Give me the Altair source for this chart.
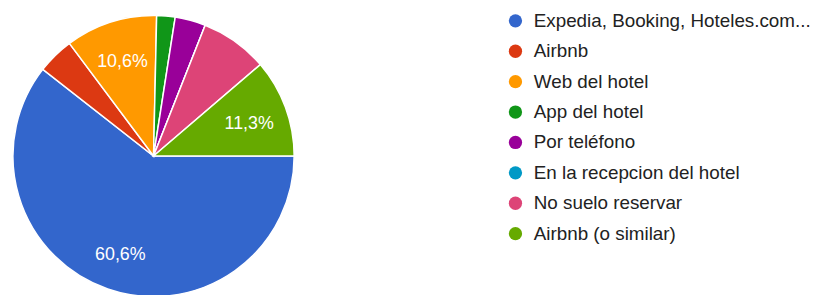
import math
import altair as alt
import pandas as pd

categories = [
    "Expedia, Booking, Hoteles.com...",
    "Airbnb",
    "Web del hotel",
    "App del hotel",
    "Por teléfono",
    "En la recepcion del hotel",
    "No suelo reservar",
    "Airbnb (o similar)",
]
counts = [86, 6, 15, 3, 5, 0, 11, 16]
colors = ["#3366cc", "#dc3912", "#ff9900", "#109618", "#990099", "#0099c6", "#dd4477", "#66aa00"]

total = sum(counts)
pcts = [c / total * 100 for c in counts]
labels = [(f"{p:.1f}".replace(".", ",") + "%") if p >= 10 else "" for p in pcts]

df = pd.DataFrame({
    "category": categories,
    "count": counts,
    "label": labels,
    "idx": list(range(len(categories))),
})

FONT = "Arial, Liberation Sans, sans-serif"
CX, CY = 147, 148

theta = alt.Theta(
    "count:Q",
    stack=True,
    scale=alt.Scale(range=[math.pi / 2, math.pi / 2 + 2 * math.pi]),
)

base = alt.Chart(df).encode(
    theta=theta,
    order=alt.Order("idx:Q", sort="ascending"),
    x=alt.value(CX),
    y=alt.value(CY),
)

pie = base.mark_arc(outerRadius=142, stroke="white", strokeWidth=1.5).encode(
    color=alt.Color(
        "category:N",
        scale=alt.Scale(domain=categories, range=colors),
        legend=alt.Legend(
            title=None,
            orient="none",
            legendX=503,
            legendY=2,
            symbolType="circle",
            symbolSize=180,
            symbolStrokeWidth=0,
            symbolOpacity=1,
            labelFontSize=19,
            labelFont=FONT,
            labelColor="#222222",
            labelOffset=9,
            labelLimit=400,
            rowPadding=10.7,
            padding=0,
        ),
    )
)

text = base.mark_text(radius=103, dy=3, fontSize=18, font=FONT, color="white").encode(
    text="label:N",
    detail="category:N",
)

chart = (
    alt.layer(pie, text)
    .properties(
        width=813,
        height=300,
        padding=0,
        background="white",
        autosize=alt.AutoSizeParams(type="none"),
    )
    .configure_view(strokeWidth=0, stroke="transparent")
)

chart.save("out.html", embed_options={"renderer": "svg", "actions": False})
